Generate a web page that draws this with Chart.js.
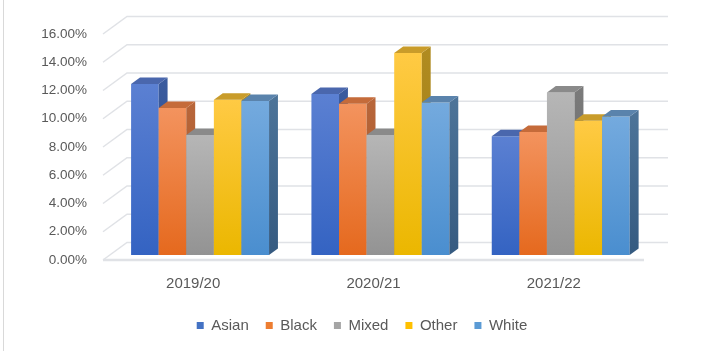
<!DOCTYPE html>
<html>
<head>
<meta charset="utf-8">
<script src="https://cdn.jsdelivr.net/npm/chart.js@4/dist/chart.umd.min.js"></script>
<style>
  html, body { margin: 0; padding: 0; background: #ffffff; }
  #wrap { width: 704px; height: 351px; position: relative; }
</style>
</head>
<body>
<div id="wrap"><canvas id="chart"></canvas></div>
<script>
const years = ['2019/20', '2020/21', '2021/22'];
const seriesNames = ['Asian', 'Black', 'Mixed', 'Other', 'White'];

// percent of each group, per year
const asian = [12.1, 11.4, 8.4];
const black = [10.4, 10.7, 8.7];
const mixed = [8.5, 8.5, 11.5];
const other = [11.0, 14.3, 9.5];
const white = [10.9, 10.8, 9.8];

const yTicks = [0, 2, 4, 6, 8, 10, 12, 14, 16];

// face colours: front gradient (top, bottom), side gradient, top face, legend swatch
const palette = [
    { front: ['#5b80d2', '#3463c2'], side: ['#3a5b9e', '#2a4886'], top: '#4a67ad', key: '#4472c4' },
    { front: ['#f3935e', '#e5691e'], side: ['#b8663a', '#a35424'], top: '#c56b3a', key: '#ed7d31' },
    { front: ['#b6b6b6', '#939393'], side: ['#7a7a7a', '#666666'], top: '#8a8a8a', key: '#a5a5a5' },
    { front: ['#ffca44', '#ebb700'], side: ['#b08b20', '#9d7a10'], top: '#c99c2a', key: '#ffc000' },
    { front: ['#74aade', '#4a8ecf'], side: ['#4c7398', '#355a80'], top: '#5a83ac', key: '#5b9bd5' }
];

// oblique projection: full floor depth, where the bars sit, how deep they are
const WALL_DX = 24, WALL_DY = -17.5;
const BAR_SHIFT_X = 6.9, BAR_SHIFT_Y = -5;
const BAR_DX = 8.9, BAR_DY = -6.5;
const LEGEND_NUDGE = 40;

const gridColor = '#e0e2e6';
const textColor = '#595959';
const fontFamily = 'Liberation Sans, Arial, sans-serif';

function frontFill(ctx, i) {
    const chart = ctx.chart;
    const y = chart.scales.y;
    if (!chart.chartArea || !y) return palette[i].key;
    const top = y.getPixelForValue(ctx.raw);
    const base = y.getPixelForValue(0);
    const g = chart.ctx.createLinearGradient(0, top, 0, base);
    g.addColorStop(0, palette[i].front[0]);
    g.addColorStop(1, palette[i].front[1]);
    return g;
}

const threeD = {
    id: 'threeD',
    afterLayout(chart) {
        // legend sits centred under the plot, not the whole canvas
        chart.legend.left += LEGEND_NUDGE;
        chart.legend.right += LEGEND_NUDGE;
    },
    beforeDraw(chart) {
        const c = chart.ctx;
        c.save();
        c.fillStyle = '#ffffff';
        c.fillRect(0, 0, chart.width, chart.height);
        c.strokeStyle = '#d9d9d9';
        c.lineWidth = 1;
        c.beginPath();
        c.moveTo(3.5, 0);
        c.lineTo(3.5, chart.height);
        c.stroke();
        c.restore();
    },
    beforeDatasetsDraw(chart) {
        const c = chart.ctx;
        const area = chart.chartArea;
        const y = chart.scales.y;

        // back wall grid + left wall diagonals
        c.save();
        c.strokeStyle = gridColor;
        c.lineWidth = 1.5;
        yTicks.forEach(v => {
            const py = y.getPixelForValue(v);
            c.beginPath();
            c.moveTo(area.left, py);
            c.lineTo(area.left + WALL_DX, py + WALL_DY);
            c.lineTo(area.right + WALL_DX, py + WALL_DY);
            c.stroke();
        });
        // front edge of the floor
        c.lineWidth = 2.5;
        c.beginPath();
        c.moveTo(area.left, area.bottom);
        c.lineTo(area.right, area.bottom);
        c.stroke();
        c.restore();

        // bars: series in order so each one covers the side of its left neighbour
        c.save();
        c.translate(BAR_SHIFT_X, BAR_SHIFT_Y);
        chart.data.datasets.forEach((ds, i) => {
            const meta = chart.getDatasetMeta(i);
            meta.data.forEach(bar => {
                bar.draw(c);
                const { x, y: top, base, width } = bar.getProps(['x', 'y', 'base', 'width'], true);
                const l = x - width / 2, r = x + width / 2;

                const sg = c.createLinearGradient(0, top, 0, base);
                sg.addColorStop(0, palette[i].side[0]);
                sg.addColorStop(1, palette[i].side[1]);
                c.fillStyle = sg;
                c.beginPath();
                c.moveTo(r, top);
                c.lineTo(r + BAR_DX, top + BAR_DY);
                c.lineTo(r + BAR_DX, base + BAR_DY);
                c.lineTo(r, base);
                c.closePath();
                c.fill();

                c.fillStyle = palette[i].top;
                c.beginPath();
                c.moveTo(l, top);
                c.lineTo(l + BAR_DX, top + BAR_DY);
                c.lineTo(r + BAR_DX, top + BAR_DY);
                c.lineTo(r, top);
                c.closePath();
                c.fill();
            });
        });
        c.restore();
        return false;
    }
};

const seriesData = [asian, black, mixed, other, white];

new Chart(document.getElementById('chart'), {
    type: 'bar',
    data: {
        labels: years,
        datasets: seriesNames.map((name, i) => ({
            label: name,
            data: seriesData[i],
            backgroundColor: ctx => frontFill(ctx, i),
            borderWidth: 0,
            barPercentage: 1,
            categoryPercentage: 0.765
        }))
    },
    plugins: [threeD],
    options: {
        responsive: true,
        maintainAspectRatio: false,
        animation: false,
        layout: { padding: { top: 34, left: 0, right: 60, bottom: 8 } },
        plugins: {
            tooltip: { enabled: false },
            legend: {
                position: 'bottom',
                labels: {
                    color: textColor,
                    font: { family: fontFamily, size: 15 },
                    boxWidth: 7,
                    boxHeight: 7,
                    padding: 17,
                    generateLabels: chart => chart.data.datasets.map((ds, i) => ({
                        text: ds.label,
                        fillStyle: palette[i].key,
                        strokeStyle: palette[i].key,
                        lineWidth: 0,
                        fontColor: textColor,
                        hidden: false,
                        datasetIndex: i
                    }))
                }
            }
        },
        scales: {
            x: {
                grid: { display: false, drawTicks: false },
                border: { display: false },
                ticks: {
                    color: textColor,
                    padding: 15,
                    font: { family: fontFamily, size: 15 }
                },
                afterFit: s => { s.height = 41; }
            },
            y: {
                min: 0,
                max: 16,
                grid: { display: false, drawTicks: false },
                border: { display: false },
                afterBuildTicks: s => { s.ticks = yTicks.map(v => ({ value: v })); },
                ticks: {
                    color: textColor,
                    padding: 16,
                    font: { family: fontFamily, size: 13.5 },
                    callback: v => v.toFixed(2) + '%'
                },
                afterFit: s => { s.width = 103; }
            }
        }
    }
});
</script>
</body>
</html>
